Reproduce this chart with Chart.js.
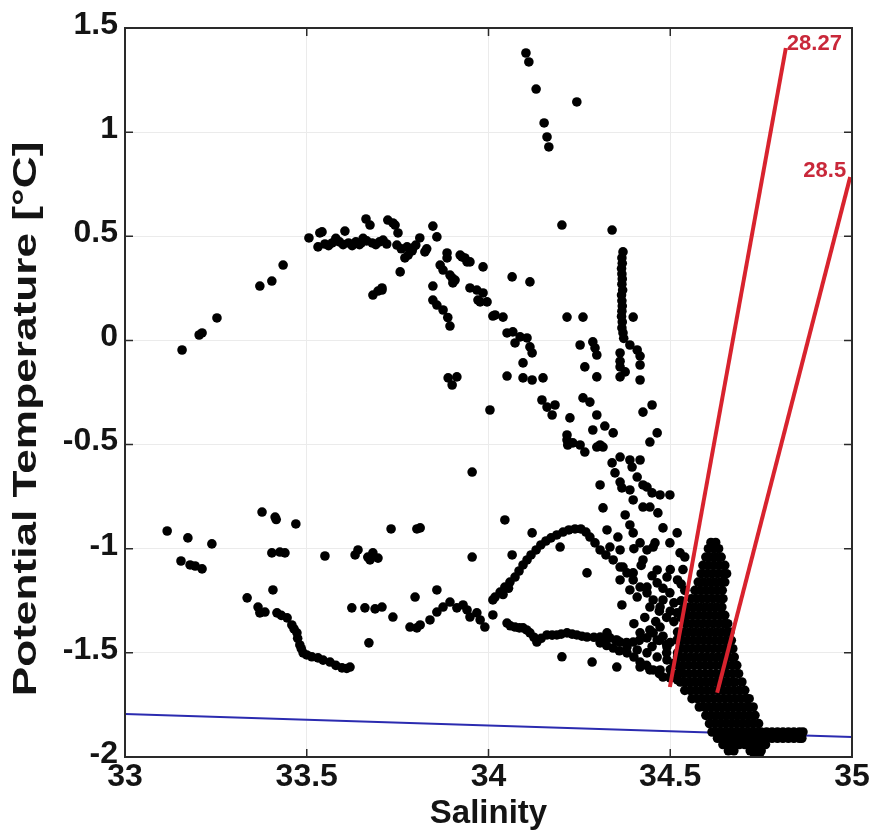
<!DOCTYPE html>
<html>
<head>
<meta charset="utf-8">
<script src="https://cdn.jsdelivr.net/npm/chart.js@4"></script>
<style>
  html, body { margin: 0; padding: 0; background: #fff; }
</style>
</head>
<body>
<canvas id="chart" width="874" height="834"></canvas>
<script>
// Axis ticks
const xTicks = [33, 33.5, 34, 34.5, 35];
const xTickLabels = ['33', '33.5', '34', '34.5', '35'];
const yTicks = [-2, -1.5, -1, -0.5, 0, 0.5, 1, 1.5];
const yTickLabels = ['-2', '-1.5', '-1', '-0.5', '0', '0.5', '1', '1.5'];
const yTitle = 'Potential Temperature [°C]';

// Reference lines
const freezeS = [33, 35];
const freezeT = [-1.793, -1.904];
const isoLabels = ['28.27', '28.5'];
const iso2827S = [34.499, 34.818];
const iso2827T = [-1.664, 1.404];
const iso285S = [34.629, 34.995];
const iso285T = [-1.692, 0.785];

// Observations [salinity, potential temperature]
const upperArc = [
    [33.157,-0.046],[33.204,0.026],[33.212,0.036],[33.253,0.108],
    [33.371,0.261],[33.404,0.285],[33.435,0.362],
    [33.506,0.492],[33.531,0.449],[33.536,0.516],[33.542,0.521],[33.550,0.463],[33.560,0.455],[33.570,0.468],
    [33.580,0.490],[33.590,0.473],[33.600,0.460],[33.605,0.525],[33.615,0.468],[33.625,0.455],[33.635,0.473],
    [33.645,0.460],[33.650,0.468],[33.655,0.490],[33.665,0.478],[33.680,0.468],[33.690,0.460],[33.700,0.473],
    [33.710,0.482],[33.720,0.463],
    [33.663,0.583],[33.674,0.554],[33.723,0.578],[33.737,0.564],[33.743,0.554],[33.751,0.516],[33.748,0.458],
    [33.760,0.440],[33.776,0.449],[33.790,0.430],[33.800,0.458],[33.792,0.444],[33.811,0.492],[33.825,0.425],
    [33.830,0.440],[33.847,0.549],[33.858,0.497],
    [33.770,0.396],[33.779,0.410],[33.757,0.329],[33.707,0.242],[33.682,0.218],[33.696,0.237],[33.707,0.252],
    [33.886,0.420],[33.886,0.396],[33.867,0.362],[33.875,0.338],[33.894,0.314],[33.900,0.300],[33.908,0.290],
    [33.902,0.276],[33.847,0.261],[33.847,0.194],[33.858,0.170],[33.875,0.146],[33.888,0.110],[33.894,0.069],
    [33.922,0.410],[33.927,0.401],[33.935,0.396],[33.941,0.377],[33.949,0.377],[33.985,0.353],
    [33.949,0.252],[33.968,0.242],[33.985,0.228],[33.971,0.194],[33.977,0.185],[33.996,0.185],[34.012,0.117],
    [34.018,0.122],[34.040,0.112],
    [33.889,-0.180],[33.900,-0.214],[33.913,-0.175],
    [34.065,0.305],[34.114,0.281]
];

const topPlume = [
    [34.103,1.380],[34.111,1.337],[34.131,1.207],[34.243,1.145],[34.153,1.044],[34.161,0.977],[34.166,0.929],
    [34.202,0.554],[34.340,0.530],[34.370,0.425],
    [34.367,0.396],[34.368,0.370],[34.366,0.345],[34.367,0.319],[34.368,0.295],[34.367,0.270],[34.369,0.242],
    [34.366,0.218],[34.367,0.190],[34.368,0.165],[34.367,0.140],[34.366,0.115],[34.368,0.089],[34.367,0.060],
    [34.370,0.036],[34.372,0.010],[34.398,0.112],
    [34.216,0.112],[34.260,0.112],
    [34.051,0.036],[34.067,0.041],[34.073,-0.012],[34.087,0.017],[34.106,0.012],[34.114,-0.031],[34.120,-0.060],
    [34.095,-0.108],[34.051,-0.171],[34.095,-0.180],[34.120,-0.190],[34.150,-0.180],
    [34.252,-0.022],[34.287,-0.007],[34.293,-0.036],[34.298,-0.070],[34.265,-0.127],[34.298,-0.175],
    [34.362,-0.060],[34.389,-0.022],[34.409,-0.046],[34.417,-0.075],[34.417,-0.118],[34.362,-0.127],
    [34.362,-0.175],[34.376,-0.151],[34.417,-0.190],[34.362,-0.100]
];

const midFan = [
    [34.004,-0.334],[34.147,-0.286],[34.161,-0.320],[34.175,-0.358],[34.183,-0.310],[34.224,-0.372],
    [34.260,-0.276],[34.279,-0.296],[34.298,-0.358],[34.320,-0.411],[34.343,-0.444],[34.287,-0.430],
    [34.216,-0.454],[34.216,-0.478],[34.218,-0.502],[34.232,-0.492],[34.252,-0.502],[34.265,-0.536],
    [34.298,-0.512],[34.307,-0.502],[34.315,-0.512],
    [34.425,-0.344],[34.450,-0.310],[34.464,-0.444],[34.444,-0.488],
    [34.362,-0.560],[34.340,-0.588],[34.348,-0.636],[34.362,-0.680],[34.367,-0.708],[34.395,-0.608],
    [34.409,-0.656],[34.417,-0.574],[34.425,-0.694],[34.450,-0.732],[34.472,-0.742],[34.499,-0.742],
    [34.307,-0.694],[34.389,-0.574],[34.436,-0.704],
    [34.389,-0.718],[34.398,-0.766],[34.425,-0.800],
    [33.955,-0.632],
    [34.315,-0.804],[34.376,-0.838],[34.389,-0.886],[34.398,-0.924],[34.417,-0.972],[34.444,-0.800],
    [34.466,-0.828],[34.480,-0.900],[34.519,-0.924],[34.499,-0.972],[34.527,-1.020],
    [34.326,-0.910],[34.356,-0.944],[34.362,-1.006],[34.334,-0.992],[34.370,-1.088],[34.398,-1.116],
    [34.425,-1.054],[34.453,-0.992],[34.464,-1.102],[34.436,-1.006],[34.458,-0.972],
    [34.362,-1.150],[34.389,-1.198],[34.409,-1.232],[34.436,-1.184],[34.464,-1.164],[34.491,-1.136],
    [34.480,-1.246],[34.444,-1.280],[34.367,-1.270],
    [34.499,-1.212],[34.519,-1.308],[34.472,-1.376],[34.444,-1.390],[34.417,-1.404],[34.519,-1.438],
    [34.491,-1.472],[34.464,-1.438],
    [34.540,-1.040],[34.535,-1.100],[34.530,-1.170],
    [34.500,-1.300],[34.510,-1.350],[34.520,-1.400],[34.500,-1.450],[34.520,-1.500],[34.510,-1.550],
    [34.500,-1.580],[34.490,-1.500],[34.480,-1.420],[34.460,-1.350],[34.490,-1.330],[34.530,-1.250],
    [34.510,-1.260],[34.530,-1.330],
    [34.400,-1.000],[34.420,-1.080],[34.450,-1.130],[34.480,-1.190],[34.500,-1.100],[34.520,-1.150],
    [34.470,-1.300],[34.430,-1.330],[34.400,-1.360],[34.450,-1.470],[34.520,-1.520],[34.530,-1.570],
    [34.540,-1.200],[34.535,-1.290]
];

const warmArc = [
    [34.012,-1.246],[34.018,-1.232],[34.032,-1.208],[34.040,-1.220],[34.045,-1.184],[34.055,-1.190],
    [34.059,-1.160],[34.073,-1.136],[34.084,-1.107],[34.095,-1.078],[34.106,-1.054],[34.117,-1.030],
    [34.131,-1.006],[34.144,-0.982],[34.158,-0.963],[34.172,-0.948],[34.188,-0.934],[34.205,-0.920],
    [34.221,-0.910],[34.238,-0.905],[34.254,-0.905],[34.268,-0.920],[34.279,-0.944],[34.293,-0.972],
    [34.307,-1.006],[34.323,-1.030],[34.343,-1.054],[34.362,-1.088],[34.381,-1.116],[34.398,-1.150],
    [34.417,-1.184],[34.436,-1.212],[34.453,-1.246],[34.472,-1.280],
    [33.812,-0.900],[34.045,-0.862],[34.120,-0.924],[34.197,-0.992],[33.955,-1.040],[34.065,-1.030],
    [34.271,-1.116]
];

const lowerLeft = [
    [33.116,-0.915],[33.173,-0.948],[33.239,-0.977],[33.154,-1.059],[33.179,-1.078],[33.193,-1.083],[33.212,-1.097],
    [33.377,-0.824],[33.413,-0.848],[33.416,-0.860],[33.470,-0.881],[33.404,-1.020],[33.426,-1.016],[33.440,-1.020],
    [33.407,-1.198],[33.336,-1.236],[33.366,-1.280],[33.371,-1.308],[33.385,-1.304],[33.418,-1.308],[33.430,-1.320],
    [33.446,-1.332],[33.459,-1.366],[33.465,-1.385],[33.473,-1.404],[33.475,-1.430],[33.481,-1.462],[33.485,-1.480],
    [33.490,-1.500],[33.500,-1.510],[33.514,-1.519],[33.531,-1.524],[33.545,-1.535],[33.564,-1.544],[33.580,-1.560],
    [33.597,-1.572],[33.610,-1.575],[33.619,-1.568],
    [33.550,-1.035],[33.633,-1.030],[33.641,-1.006],[33.668,-1.040],[33.674,-1.054],[33.682,-1.020],[33.696,-1.045],
    [33.732,-0.905],[33.803,-0.905],
    [33.624,-1.284],[33.660,-1.284],[33.688,-1.289],[33.707,-1.280],[33.671,-1.452],[33.737,-1.328]
];

const lowerBranch = [
    [33.784,-1.376],[33.803,-1.380],[33.812,-1.366],[33.839,-1.342],[33.858,-1.304],[33.875,-1.280],[33.894,-1.256],
    [33.913,-1.284],[33.930,-1.270],[33.941,-1.294],[33.949,-1.328],[33.968,-1.308],[33.977,-1.342],[33.990,-1.376],
    [34.012,-1.318],[33.798,-1.232],[33.858,-1.198],
    [34.051,-1.357],[34.060,-1.370],[34.073,-1.376],[34.085,-1.380],[34.095,-1.380],[34.105,-1.390],[34.114,-1.404],
    [34.125,-1.425],[34.133,-1.448],[34.145,-1.430],[34.161,-1.414],[34.175,-1.415],[34.188,-1.414],[34.200,-1.410],
    [34.216,-1.404],[34.230,-1.410],[34.243,-1.414],[34.257,-1.420],[34.271,-1.424],[34.290,-1.425],[34.307,-1.424],
    [34.320,-1.430],[34.334,-1.428],[34.350,-1.440],[34.362,-1.448],[34.380,-1.450],[34.398,-1.448],[34.415,-1.440],
    [34.436,-1.428],[34.453,-1.404],[34.470,-1.440],[34.490,-1.460],
    [34.307,-1.452],[34.325,-1.465],[34.343,-1.477],[34.360,-1.490],[34.381,-1.500],[34.400,-1.520],[34.417,-1.544],
    [34.435,-1.560],[34.453,-1.582],[34.470,-1.600],[34.480,-1.616],[34.500,-1.620],[34.520,-1.630],
    [34.326,-1.404],[34.353,-1.438],[34.381,-1.472],[34.409,-1.486],[34.436,-1.500],[34.464,-1.520],[34.491,-1.534],
    [34.417,-1.568],[34.444,-1.582],[34.472,-1.582],[34.499,-1.616],
    [34.202,-1.519],[34.285,-1.544],[34.353,-1.568]
];

// Dense deep-water core: one temperature per row, salinities along it
const coreT = [-0.97, -1.00, -1.04, -1.08, -1.12, -1.16, -1.20, -1.24, -1.28, -1.32, -1.36, -1.40, -1.44, -1.48,
    -1.52, -1.56, -1.60, -1.64, -1.68, -1.72, -1.76, -1.80, -1.84, -1.88, -1.91, -1.94, -1.97, -2.00];
const coreS = [
    [34.612, 34.625],
    [34.605, 34.620, 34.633],
    [34.598, 34.612, 34.626, 34.640],
    [34.590, 34.605, 34.620, 34.635, 34.650],
    [34.585, 34.600, 34.615, 34.630, 34.645, 34.655],
    [34.577, 34.592, 34.607, 34.622, 34.637, 34.650],
    [34.568, 34.583, 34.598, 34.613, 34.628, 34.643],
    [34.558, 34.573, 34.588, 34.603, 34.618, 34.633, 34.645],
    [34.552, 34.567, 34.582, 34.597, 34.612, 34.627, 34.642],
    [34.548, 34.563, 34.578, 34.593, 34.608, 34.623, 34.638, 34.650],
    [34.543, 34.558, 34.573, 34.588, 34.603, 34.618, 34.633, 34.648, 34.658],
    [34.537, 34.552, 34.567, 34.582, 34.597, 34.612, 34.627, 34.642, 34.657, 34.664],
    [34.533, 34.548, 34.563, 34.578, 34.593, 34.608, 34.623, 34.638, 34.653, 34.668],
    [34.528, 34.543, 34.558, 34.573, 34.588, 34.603, 34.618, 34.633, 34.648, 34.663, 34.672],
    [34.525, 34.540, 34.555, 34.570, 34.585, 34.600, 34.615, 34.630, 34.645, 34.660, 34.676],
    [34.520, 34.535, 34.550, 34.565, 34.580, 34.595, 34.610, 34.625, 34.640, 34.655, 34.670, 34.683],
    [34.522, 34.537, 34.552, 34.567, 34.582, 34.597, 34.612, 34.627, 34.642, 34.657, 34.672, 34.688],
    [34.528, 34.543, 34.558, 34.573, 34.588, 34.603, 34.618, 34.633, 34.648, 34.663, 34.678, 34.697],
    [34.540, 34.555, 34.570, 34.585, 34.600, 34.615, 34.630, 34.645, 34.660, 34.675, 34.690, 34.705],
    [34.560, 34.575, 34.590, 34.605, 34.620, 34.635, 34.650, 34.665, 34.680, 34.695, 34.710, 34.717],
    [34.580, 34.595, 34.610, 34.625, 34.640, 34.655, 34.670, 34.685, 34.700, 34.715, 34.728],
    [34.598, 34.613, 34.628, 34.643, 34.658, 34.673, 34.688, 34.703, 34.718, 34.733],
    [34.608, 34.623, 34.638, 34.653, 34.668, 34.683, 34.698, 34.713, 34.728, 34.743],
    [34.615, 34.630, 34.645, 34.660, 34.675, 34.690, 34.705, 34.720, 34.735, 34.750, 34.765, 34.780, 34.795,
        34.810, 34.825, 34.840, 34.855, 34.865],
    [34.630, 34.645, 34.660, 34.675, 34.690, 34.705, 34.720, 34.735, 34.750, 34.765, 34.780, 34.795, 34.810,
        34.825, 34.840, 34.855, 34.862],
    [34.645, 34.660, 34.675, 34.690, 34.705, 34.720, 34.735, 34.750, 34.762],
    [34.660, 34.675, 34.720, 34.735, 34.750],
    [34.732, 34.745]
];

const fontFamily = '"Liberation Sans", Arial, Helvetica, sans-serif';
const inkColor = '#141414';
const redColor = '#d8232e';

const toXY = ([s, t]) => ({ x: s, y: t });
const points = [...upperArc, ...topPlume, ...midFan, ...warmArc, ...lowerLeft, ...lowerBranch].map(toXY);
coreT.forEach((t, i) => {
    coreS[i].forEach(s => points.push({ x: s, y: t }));
});

const pairUp = (xs, ys) => xs.map((v, i) => ({ x: v, y: ys[i] }));

// Box, inward ticks, y title and the isopycnal labels
const framePlugin = {
    id: 'frame',
    afterDatasetsDraw(chart) {
        const { ctx, chartArea: a, scales: { x, y } } = chart;
        ctx.save();
        ctx.strokeStyle = '#2a2a2a';
        ctx.lineWidth = 2;
        ctx.strokeRect(a.left, a.top, a.right - a.left, a.bottom - a.top);
        ctx.lineWidth = 1.5;
        ctx.beginPath();
        xTicks.forEach(v => {
            const px = x.getPixelForValue(v);
            ctx.moveTo(px, a.bottom); ctx.lineTo(px, a.bottom - 8);
            ctx.moveTo(px, a.top); ctx.lineTo(px, a.top + 8);
        });
        yTicks.forEach(v => {
            const py = y.getPixelForValue(v);
            ctx.moveTo(a.left, py); ctx.lineTo(a.left + 8, py);
            ctx.moveTo(a.right, py); ctx.lineTo(a.right - 8, py);
        });
        ctx.stroke();

        // y title, stretched along its length like the original figure
        ctx.save();
        ctx.translate(27, 419);
        ctx.rotate(-Math.PI / 2);
        ctx.scale(1.3, 1);
        ctx.fillStyle = inkColor;
        ctx.font = 'bold 34px ' + fontFamily;
        ctx.textAlign = 'center';
        ctx.textBaseline = 'middle';
        ctx.fillText(yTitle, 0, 0);
        ctx.restore();

        ctx.fillStyle = '#c9283a';
        ctx.font = 'bold 22px ' + fontFamily;
        ctx.textBaseline = 'middle';
        let px = x.getPixelForValue(iso2827S[1]);
        let py = y.getPixelForValue(iso2827T[1]);
        ctx.textAlign = 'left';
        ctx.fillText(isoLabels[0], px + 1, py - 4);
        px = x.getPixelForValue(iso285S[1]);
        py = y.getPixelForValue(iso285T[1]);
        ctx.textAlign = 'right';
        ctx.fillText(isoLabels[1], px - 4, py - 6);
        ctx.restore();
    }
};

new Chart(document.getElementById('chart'), {
    type: 'scatter',
    data: {
        datasets: [
            {
                label: isoLabels[0],
                data: pairUp(iso2827S, iso2827T),
                showLine: true,
                borderColor: redColor,
                borderWidth: 4,
                pointRadius: 0,
                order: 0
            },
            {
                label: isoLabels[1],
                data: pairUp(iso285S, iso285T),
                showLine: true,
                borderColor: redColor,
                borderWidth: 4,
                pointRadius: 0,
                order: 0
            },
            {
                label: 'CTD',
                data: points,
                backgroundColor: '#000',
                borderWidth: 0,
                pointRadius: 4.8,
                order: 1
            },
            {
                label: 'Freezing point',
                data: pairUp(freezeS, freezeT),
                showLine: true,
                borderColor: '#2b2bb0',
                borderWidth: 2,
                pointRadius: 0,
                order: 2
            }
        ]
    },
    options: {
        responsive: false,
        animation: false,
        layout: { padding: { top: 28, right: 22, left: 0, bottom: 0 } },
        plugins: {
            legend: { display: false },
            tooltip: { enabled: false }
        },
        scales: {
            x: {
                type: 'linear',
                min: 33,
                max: 35,
                afterBuildTicks: scale => { scale.ticks = xTicks.map(v => ({ value: v })); },
                afterFit: scale => { scale.height = 77; },
                grid: { color: '#ebebeb', drawTicks: false },
                border: { display: false },
                ticks: {
                    color: inkColor,
                    padding: 1,
                    maxRotation: 0,
                    font: { family: fontFamily, size: 32, weight: 'bold' },
                    callback: (value, index) => xTickLabels[index]
                },
                title: {
                    display: true,
                    text: 'Salinity',
                    color: inkColor,
                    padding: { top: 0, bottom: 0 },
                    font: { family: fontFamily, size: 33, weight: 'bold' }
                }
            },
            y: {
                type: 'linear',
                min: -2,
                max: 1.5,
                afterBuildTicks: scale => { scale.ticks = yTicks.map(v => ({ value: v })); },
                afterFit: scale => { scale.width = 125; },
                grid: { color: '#ebebeb', drawTicks: false },
                border: { display: false },
                ticks: {
                    color: inkColor,
                    padding: 7,
                    labelOffset: -3,
                    font: { family: fontFamily, size: 32, weight: 'bold' },
                    callback: (value, index) => yTickLabels[index]
                },
                title: { display: false }
            }
        }
    },
    plugins: [framePlugin]
});
</script>
</body>
</html>
